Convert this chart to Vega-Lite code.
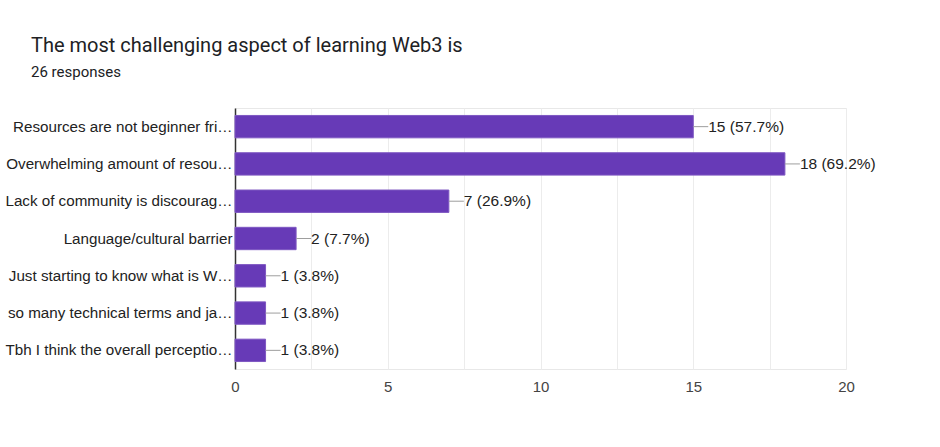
{
  "$schema": "https://vega.github.io/schema/vega-lite/v6.json",
  "width": 611,
  "height": 261,
  "autosize": "none",
  "padding": {"left": 235, "top": 108, "right": 94, "bottom": 78},
  "background": "white",
  "title": {
    "text": "The most challenging aspect of learning Web3 is",
    "subtitle": "26 responses",
    "anchor": "start",
    "frame": "group",
    "dx": -204,
    "offset": 28,
    "font": "Roboto",
    "fontSize": 20,
    "fontWeight": "normal",
    "color": "#202124",
    "subtitleFont": "Roboto",
    "subtitleFontSize": 15,
    "subtitleColor": "#202124",
    "subtitlePadding": 9
  },
  "config": {
    "view": {"stroke": "#e8e8e8", "strokeWidth": 1},
    "font": "Liberation Sans"
  },
  "data": {
    "values": [
      {"answer": "Resources are not beginner fri…", "count": 15, "label": "15 (57.7%)"},
      {"answer": "Overwhelming amount of resou…", "count": 18, "label": "18 (69.2%)"},
      {"answer": "Lack of community is discourag…", "count": 7, "label": "7 (26.9%)"},
      {"answer": "Language/cultural barrier", "count": 2, "label": "2 (7.7%)"},
      {"answer": "Just starting to know what is W…", "count": 1, "label": "1 (3.8%)"},
      {"answer": "so many technical terms and ja…", "count": 1, "label": "1 (3.8%)"},
      {"answer": "Tbh I think the overall perceptio…", "count": 1, "label": "1 (3.8%)"}
    ]
  },
  "encoding": {
    "y": {
      "field": "answer",
      "type": "nominal",
      "sort": null,
      "scale": {"paddingInner": 0.4, "paddingOuter": 0.2},
      "axis": {
        "title": null,
        "ticks": false,
        "labelPadding": 3,
        "labelFontSize": 15.2,
        "labelColor": "#222222",
        "labelLimit": 240,
        "domainColor": "#333333",
        "domainWidth": 1.5
      }
    }
  },
  "layer": [
    {
      "mark": {"type": "bar", "color": "#673ab7", "stroke": "#7e57c2", "strokeWidth": 1},
      "encoding": {
        "x": {
          "field": "count",
          "type": "quantitative",
          "scale": {"domain": [0, 20], "nice": false},
          "axis": {
            "title": null,
            "values": [0, 2.5, 5, 7.5, 10, 12.5, 15, 17.5, 20],
            "labelExpr": "datum.value % 5 == 0 ? datum.label : ''",
            "labelFlush": false,
            "grid": true,
            "gridColor": "#ececec",
            "ticks": false,
            "domain": false,
            "labelPadding": 10,
            "labelFontSize": 15,
            "labelColor": "#444444"
          }
        }
      }
    },
    {
      "mark": {"type": "rule", "color": "#9e9e9e", "strokeWidth": 1, "x2Offset": 15},
      "encoding": {
        "x": {"field": "count", "type": "quantitative"},
        "x2": {"field": "count"}
      }
    },
    {
      "mark": {"type": "text", "align": "left", "baseline": "middle", "dx": 15, "fontSize": 15.5, "color": "#222222"},
      "encoding": {
        "x": {"field": "count", "type": "quantitative"},
        "text": {"field": "label"}
      }
    }
  ]
}
